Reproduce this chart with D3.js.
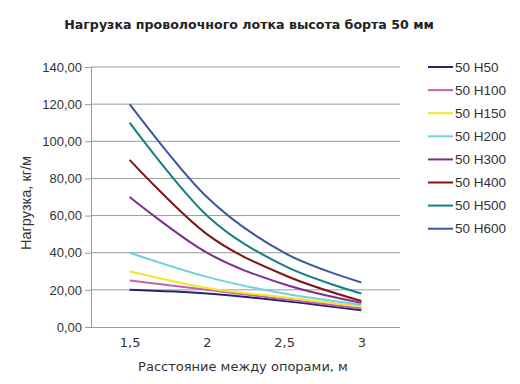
<!DOCTYPE html>
<html>
<head>
<meta charset="utf-8">
<script src="https://d3js.org/d3.v7.min.js"></script>
<style>
  body { margin: 0; background: #fff; }
</style>
</head>
<body>
<script>
// расстояние между опорами, м
const categories = ["1,5", "2", "2,5", "3"];
const yTicks = [0, 20, 40, 60, 80, 100, 120, 140];

const seriesNames = ["50 H50", "50 H100", "50 H150", "50 H200", "50 H300", "50 H400", "50 H500", "50 H600"];
const seriesColors = ["#25256e", "#c462ad", "#f2e52a", "#72d0df", "#7d2f8c", "#7e1418", "#14807c", "#3d56a2"];

// нагрузка, кг/м
const h50 = [20, 18, 14, 9];
const h100 = [25, 20, 15, 10];
const h150 = [30, 21, 16, 11];
const h200 = [40, 27, 18, 12];
const h300 = [70, 40, 23, 13];
const h400 = [90, 50, 28, 14];
const h500 = [110, 60, 33, 18];
const h600 = [120, 70, 40, 24];
const seriesValues = [h50, h100, h150, h200, h300, h400, h500, h600];

const width = 520, height = 384;
const margin = {top: 67, right: 120, bottom: 57, left: 91};

const svg = d3.select("body").append("svg")
    .attr("width", width)
    .attr("height", height);

const x = d3.scalePoint()
    .domain(categories)
    .range([margin.left, width - margin.right])
    .padding(0.5);

const y = d3.scaleLinear()
    .domain([0, 140])
    .range([height - margin.bottom, margin.top]);

const fmt = d => d3.format(".2f")(d).replace(".", ",");

// сетка
svg.append("g")
    .selectAll("line")
    .data(yTicks.slice(1))
    .join("line")
    .attr("x1", margin.left)
    .attr("x2", width - margin.right)
    .attr("y1", d => y(d))
    .attr("y2", d => y(d))
    .attr("stroke", "#9a9a9a")
    .attr("stroke-width", 1);

// ось Y
const yAxis = svg.append("g")
    .attr("transform", `translate(${margin.left},0)`)
    .call(d3.axisLeft(y).tickValues(yTicks).tickFormat(fmt).tickSize(6).tickPadding(3));
yAxis.select(".domain").attr("stroke", "#9a9a9a");
yAxis.selectAll(".tick line").attr("stroke", "#9a9a9a");
yAxis.selectAll(".tick text")
    .attr("fill", "#333")
    .style("font", "13px 'Liberation Sans', Arial, sans-serif");

// ось X
const xAxis = svg.append("g")
    .attr("transform", `translate(0,${height - margin.bottom})`)
    .call(d3.axisBottom(x).tickSize(0).tickPadding(11));
xAxis.select(".domain").attr("stroke", "#9a9a9a").attr("d", `M${margin.left},0.5H${width - margin.right}`);
xAxis.selectAll(".tick text")
    .attr("fill", "#333")
    .style("font", "13px 'DejaVu Sans', Verdana, sans-serif");

// линии
const line = d3.line()
    .x((d, i) => x(categories[i]))
    .y(d => y(d))
    .curve(d3.curveCardinal.tension(0));

svg.append("g")
    .selectAll("path")
    .data(seriesValues)
    .join("path")
    .attr("fill", "none")
    .attr("stroke", (d, i) => seriesColors[i])
    .attr("stroke-width", 2)
    .attr("d", line);

// заголовок
svg.append("text")
    .attr("x", 249)
    .attr("y", 29)
    .attr("text-anchor", "middle")
    .attr("fill", "#222")
    .style("font", "bold 12.6px 'DejaVu Sans', Verdana, sans-serif")
    .text("Нагрузка проволочного лотка высота борта 50 мм");

svg.append("text")
    .attr("x", 243)
    .attr("y", 371)
    .attr("text-anchor", "middle")
    .attr("fill", "#333")
    .style("font", "13px 'DejaVu Sans', Verdana, sans-serif")
    .text("Расстояние между опорами, м");

svg.append("text")
    .attr("transform", `translate(26,${(y(0) + y(140)) / 2 + 6}) rotate(-90)`)
    .attr("text-anchor", "middle")
    .attr("dy", "0.35em")
    .attr("fill", "#333")
    .style("font", "14.5px 'Liberation Sans', Arial, sans-serif")
    .text("Нагрузка, кг/м");

// легенда
const legend = svg.append("g")
    .selectAll("g")
    .data(seriesNames)
    .join("g")
    .attr("transform", (d, i) => `translate(428,${67 + i * 23.1})`);

legend.append("line")
    .attr("x1", 0)
    .attr("x2", 25)
    .attr("stroke", (d, i) => seriesColors[i])
    .attr("stroke-width", 2);

legend.append("text")
    .attr("x", 27)
    .attr("dy", "0.35em")
    .attr("fill", "#333")
    .style("font", "13.5px 'Liberation Sans', Arial, sans-serif")
    .text(d => d);
</script>
</body>
</html>
